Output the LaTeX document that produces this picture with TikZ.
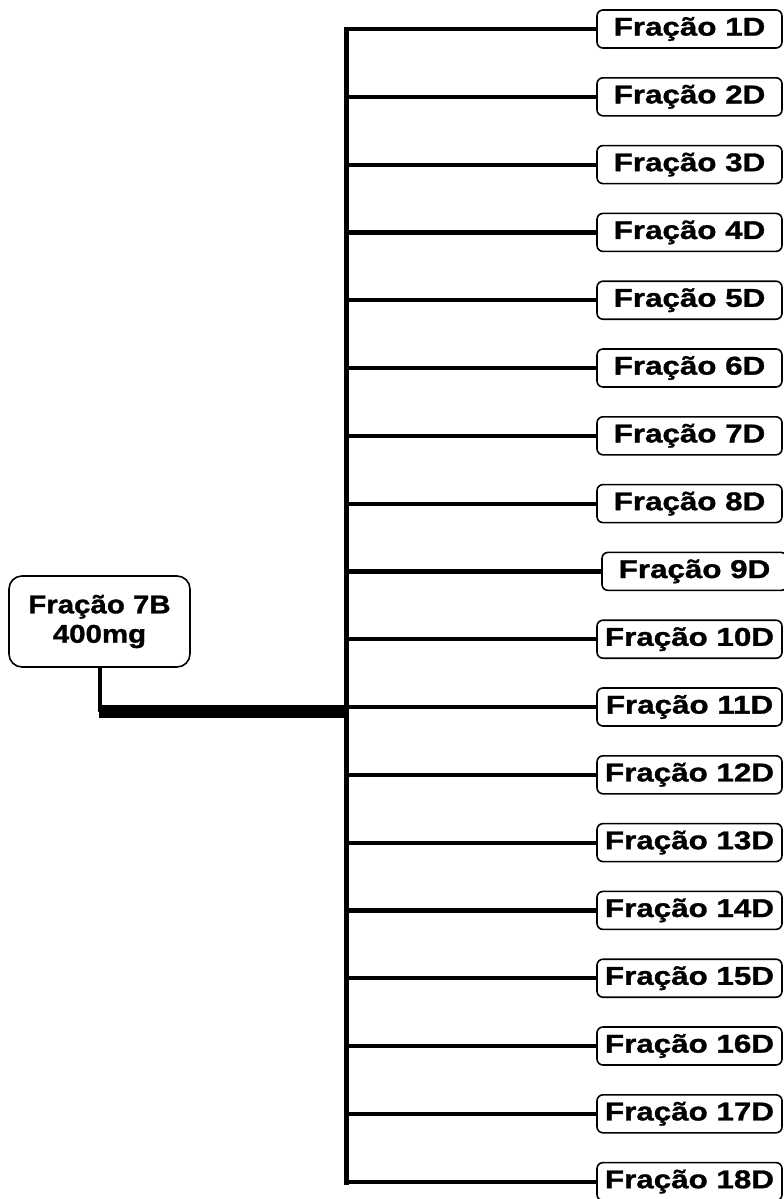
\documentclass[tikz,border=0pt]{standalone}
\usepackage{fontspec}
\setmainfont{Liberation Sans}
\newfontfamily\widesans[FakeStretch=1.22, BoldFeatures={FakeBold=1.2}]{Liberation Sans}
\newfontfamily\srcsans[FakeStretch=1.15, BoldFeatures={FakeBold=1.2}]{Liberation Sans}
\usepackage{tikz}

\tikzset{
  srcbox/.style={draw, line width=0.8pt, rounded corners=6.5pt, align=center,
    minimum width=90.5pt, minimum height=45.5pt, inner sep=0pt,
    font=\srcsans\fontsize{12.8}{14.7}\selectfont\bfseries},
  fracbox/.style={draw, line width=0.8pt, rounded corners=3pt,
    minimum width=92.5pt, minimum height=19pt, inner sep=0pt,
    font=\widesans\fontsize{12.85}{14}\selectfont\bfseries},
  trunk/.style={line width=2.5pt},
  branch/.style={line width=2.1pt}
}

\begin{document}
\begin{tikzpicture}[x=0.5pt, y=-0.5pt]
\useasboundingbox (0,0) rectangle (783,1199);
\node[srcbox] (f7b) at (99.5,621.5) {Fração 7B\\400mg};
\coordinate (top) at (346.5,27);
\coordinate (bot) at (346.5,1185);
\coordinate (joint) at (346.5,711.5);
\draw[trunk] (top) -- (bot);
\draw[line width=2pt] (f7b.south) -- (f7b.south |- joint);
\draw[line width=6.5pt] ([xshift=-0.5pt]f7b.south |- joint) -- (joint);
\foreach \i in {1,...,18} {
  \node[fracbox] (f\i) at ({689.5+5*(\i==9)}, {29+67.8*(\i-1)}) {Fração \i D};
  \draw[branch] (top |- f\i) -- (f\i);
}
\end{tikzpicture}
\end{document}
